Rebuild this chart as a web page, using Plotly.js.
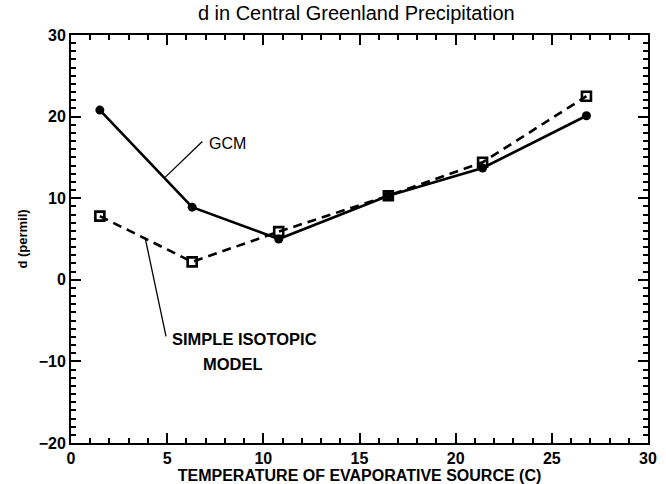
<!DOCTYPE html>
<html>
<head>
<meta charset="utf-8">
<script src="https://cdn.plot.ly/plotly-3.0.1.min.js"></script>
<style>html,body{margin:0;padding:0;background:#fff}#chart{width:666px;height:484px}</style>
</head>
<body>
<div id="chart"></div>
<script>
// Temperature of evaporative source (C)
const sourceTemp = [1.5, 6.3, 10.8, 16.5, 21.4, 26.8];
// d-excess (permil)
const gcmValues = [20.8, 8.9, 5.0, 10.3, 13.7, 20.1];
const simpleModelValues = [7.8, 2.2, 5.9, 10.3, 14.4, 22.5];
const xRange = [0, 30];
const yRange = [-20, 30];

const font = "'Liberation Sans', Arial, Helvetica, sans-serif";

function makeAxis(range, dtick, titleText, titleFont, standoff) {
  return {
    range: range, dtick: dtick,
    showline: true, linecolor: '#000', linewidth: 2, mirror: 'allticks',
    ticks: 'inside', ticklen: 10, tickwidth: 2, tickcolor: '#000',
    showgrid: false, zeroline: false,
    tickfont: {family: font, size: 16, color: '#000', weight: 'bold'},
    minor: {ticks: 'inside', dtick: 1, ticklen: 5, tickwidth: 1.5, tickcolor: '#000'},
    title: {text: titleText, standoff: standoff, font: titleFont}
  };
}

const traces = [
  {
    x: sourceTemp, y: simpleModelValues, type: 'scatter', mode: 'lines+markers',
    name: 'SIMPLE ISOTOPIC MODEL',
    line: {color: '#000', width: 2.6, dash: '9px,6px'},
    marker: {symbol: 'square-open', size: 9, color: '#000', line: {width: 2.6, color: '#000'}}
  },
  {
    x: sourceTemp, y: gcmValues, type: 'scatter', mode: 'lines+markers',
    name: 'GCM',
    line: {color: '#000', width: 2.6},
    marker: {symbol: 'circle', size: 9, color: '#000'}
  }
];

const layout = {
  width: 666, height: 484,
  margin: {l: 71, r: 18, t: 35, b: 41},
  showlegend: false,
  title: {text: 'd in Central Greenland Precipitation', x: 0.535, xanchor: 'center', y: 0.988, yanchor: 'top',
          font: {family: font, size: 20, color: '#000'}},
  xaxis: makeAxis(xRange, 5, 'TEMPERATURE OF EVAPORATIVE SOURCE (C)',
                  {family: font, size: 16, color: '#000', weight: 'bold'}, 0),
  yaxis: makeAxis(yRange, 10, 'd (permil)',
                  {family: font, size: 13, color: '#000', weight: 'bold'}, 8),
  shapes: [
    {type: 'line', xref: 'x', yref: 'y', x0: 6.83, y0: 16.96, x1: 4.89, y1: 12.55, line: {color: '#000', width: 1.3}},
    {type: 'line', xref: 'x', yref: 'y', x0: 3.85, y0: 5.2, x1: 4.94, y1: -6.94, line: {color: '#000', width: 1.3}}
  ],
  annotations: [
    {x: 7.06, y: 16.75, xref: 'x', yref: 'y', text: 'GCM', showarrow: false, xanchor: 'left', yanchor: 'middle',
     font: {family: font, size: 16, color: '#000'}},
    {x: 5.15, y: -7.27, xref: 'x', yref: 'y', text: 'SIMPLE ISOTOPIC', showarrow: false, xanchor: 'left', yanchor: 'middle',
     font: {family: font, size: 16.5, color: '#000', weight: 'bold'}},
    {x: 8.42, y: -10.35, xref: 'x', yref: 'y', text: 'MODEL', showarrow: false, xanchor: 'center', yanchor: 'middle',
     font: {family: font, size: 16.5, color: '#000', weight: 'bold'}}
  ]
};

Plotly.newPlot('chart', traces, layout, {displayModeBar: false}).then(gd => {
  // Diagnostic shown only if no tick marks were drawn
  const ticks = gd.querySelectorAll('path.xtick, path.ytick');
  if (ticks.length === 0) {
    const t = document.createElement('div');
    t.style.cssText = 'position:absolute;left:80px;top:420px;font:10px sans-serif;background:yellow';
    t.textContent = 'no ticks; xaxislayer children=' + gd.querySelectorAll('.xaxislayer-above *').length;
    document.body.appendChild(t);
  }
});
</script>
</body>
</html>
